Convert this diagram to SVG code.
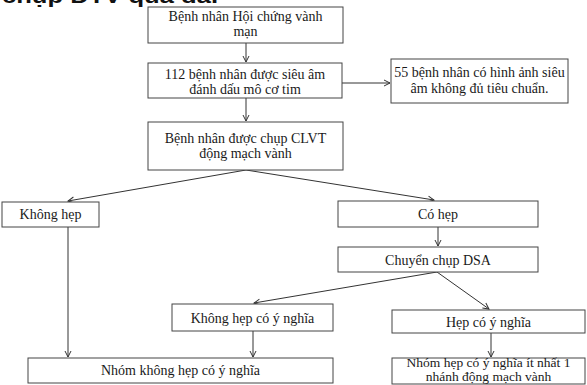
<svg xmlns="http://www.w3.org/2000/svg" width="587" height="385" viewBox="0 0 587 385">
  <defs>
    <marker id="arr" markerWidth="8" markerHeight="8" refX="7" refY="4" orient="auto" markerUnits="userSpaceOnUse">
      <polyline points="1,1 7,4 1,7" fill="none" stroke="#333" stroke-width="1"/>
    </marker>
    <style>
      .box { fill: #fff; stroke: #444; stroke-width: 1; }
      .t { font-family: "Liberation Serif", "Times New Roman", serif; font-size: 14px; fill: #1a1a1a; text-anchor: middle; }
      .s { font-size: 13.5px; }
      .c { stroke: #333; stroke-width: 1; fill: none; marker-end: url(#arr); }
      .hdr { font-family: "Liberation Sans", Arial, sans-serif; font-weight: bold; font-size: 20px; fill: #111; }
    </style>
  </defs>
  <rect width="587" height="385" fill="#fff"/>
  <text class="hdr" x="2" y="3" textLength="216" lengthAdjust="spacingAndGlyphs">chụp DTV quá đà.</text>

  <g id="connectors">
    <line class="c" x1="246" y1="43" x2="246" y2="62"/>
    <line class="c" x1="342" y1="83" x2="390" y2="83"/>
    <line class="c" x1="246" y1="98" x2="246" y2="121"/>
    <line class="c" x1="246" y1="170" x2="68" y2="201"/>
    <line class="c" x1="246" y1="170" x2="434" y2="200"/>
    <line class="c" x1="68" y1="227" x2="68" y2="357"/>
    <line class="c" x1="438" y1="227" x2="438" y2="246"/>
    <line class="c" x1="437" y1="272" x2="254" y2="303"/>
    <line class="c" x1="437" y1="272" x2="489" y2="309"/>
    <line class="c" x1="253" y1="331" x2="253" y2="357"/>
    <line class="c" x1="491" y1="333" x2="491" y2="357"/>
  </g>

  <g id="n1">
    <rect class="box" x="148" y="7" width="195" height="36"/>
    <text class="t" x="245.5" y="21">Bệnh nhân Hội  chứng vành</text>
    <text class="t" x="245.5" y="36">mạn</text>
  </g>
  <g id="n2">
    <rect class="box" x="148" y="63" width="194" height="35"/>
    <text class="t" x="245" y="79">112 bệnh nhân được siêu âm</text>
    <text class="t" x="245" y="94">đánh dấu mô cơ tim</text>
  </g>
  <g id="n3">
    <rect class="box" x="391" y="59" width="177" height="44"/>
    <text class="t" x="479.5" y="77">55 bệnh nhân có hình ảnh siêu</text>
    <text class="t" x="479.5" y="93">âm không đủ tiêu chuẩn.</text>
  </g>
  <g id="n4">
    <rect class="box" x="148" y="122" width="195" height="48"/>
    <text class="t" x="245.5" y="143">Bệnh nhân được chụp CLVT</text>
    <text class="t" x="245.5" y="158">động mạch vành</text>
  </g>
  <g id="n5">
    <rect class="box" x="2" y="202" width="97" height="25"/>
    <text class="t" x="50.5" y="219">Không hẹp</text>
  </g>
  <g id="n6">
    <rect class="box" x="338" y="201" width="200" height="26"/>
    <text class="t" x="438" y="219">Có hẹp</text>
  </g>
  <g id="n7">
    <rect class="box" x="338" y="247" width="200" height="25"/>
    <text class="t" x="438" y="265">Chuyển chụp DSA</text>
  </g>
  <g id="n8">
    <rect class="box" x="172" y="304" width="161" height="27"/>
    <text class="t" x="252.5" y="323">Không hẹp có ý nghĩa</text>
  </g>
  <g id="n9">
    <rect class="box" x="392" y="310" width="193" height="23"/>
    <text class="t" x="488.5" y="327">Hẹp có ý nghĩa</text>
  </g>
  <g id="n10">
    <rect class="box" x="28" y="358" width="305" height="25"/>
    <text class="t" x="180.5" y="375">Nhóm không hẹp có ý nghĩa</text>
  </g>
  <g id="n11">
    <rect class="box" x="392" y="358" width="193" height="26"/>
    <text class="t s" x="488.5" y="367">Nhóm hẹp có ý nghĩa ít nhất 1</text>
    <text class="t s" x="488.5" y="381">nhánh động mạch vành</text>
  </g>
</svg>
